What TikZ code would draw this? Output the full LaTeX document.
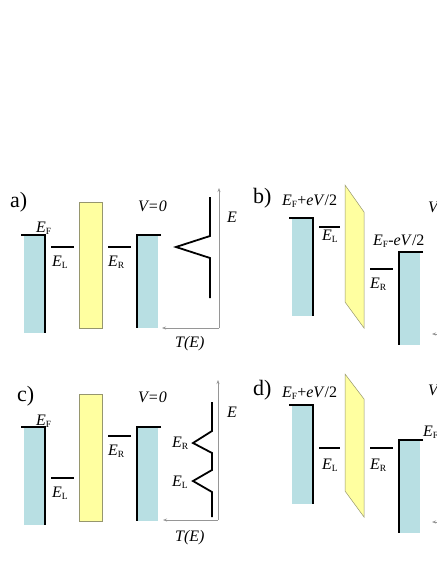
\documentclass[tikz,border=0pt]{standalone}
\usepackage{fontspec}
\setmainfont{Liberation Serif}
\usetikzlibrary{arrows.meta}
\definecolor{leadblue}{RGB}{184,223,227}
\definecolor{barfill}{RGB}{255,255,160}
\definecolor{barline}{RGB}{150,150,110}
\definecolor{axisgray}{RGB}{150,150,150}
\newcommand{\Ex}[1]{\textit{E}\raisebox{-0.35ex}{\fontsize{9.5}{9.5}\selectfont #1}}
\begin{document}
\begin{tikzpicture}[x=1pt,y=-1pt,
  lbl/.style={font=\fontsize{16}{16}\selectfont, inner sep=0pt, anchor=base west},
  panel/.style={font=\fontsize{22}{22}\selectfont, inner sep=0pt, anchor=base west},
  leadbox/.style={fill=leadblue, draw=none},
  edgeline/.style={line width=1.8pt, black},
  level/.style={line width=2.6pt, black},
  barrier/.style={fill=barfill, draw=barline, line width=0.5pt},
  curve/.style={line width=1.8pt, black, line join=miter},
  axis/.style={draw=axisgray, line width=0.7pt, -{Stealth[length=4pt,width=3pt]}},
]
\useasboundingbox (0,0) rectangle (436,564);

% ================= panel a =================
\node[panel] (pa) at (10,207) {a)};
\fill[leadbox] (24,235) rectangle (45,333);
\draw[edgeline] (21,235) -- (45,235) -- (45,333);
\node[lbl] (aEF) at (36,232) {\Ex{F}};
\draw[level] (51,247) -- (74,247);
\node[lbl] (aEL) at (52,266) {\Ex{L}};
\draw[barrier] (79,202) rectangle (102,328);
\draw[level] (108,247) -- (131,247);
\node[lbl] (aER) at (108,266) {\Ex{R}};
\fill[leadbox] (137,235) rectangle (158,328);
\draw[edgeline] (161,235) -- (137,235) -- (137,328);
\node[lbl] (aV) at (138,211) {\textit{V=0}};
\draw[curve] (210,197) -- (210,236) -- (176,247) -- (210,258) -- (210,298);
\coordinate (aO) at (219,328);
\coordinate (aYt) at (219,188);
\coordinate (aXt) at (162,328);
\draw[axis] (aO) -- (aYt);
\draw[axis] (aO) -- (aXt);
\node[lbl] (aT) at (175,347) {\textit{T(E)}};
\node[lbl] (aE) at (227,222) {\textit{E}};

% ================= panel b =================
\node[panel] (pb) at (253,203) {b)};
\node[lbl] (bEF) at (282,205) {\Ex{F}+\textit{eV}/2};
\fill[leadbox] (292,218) rectangle (313,316);
\draw[edgeline] (289,218) -- (313,218) -- (313,316);
\draw[level] (319,227) -- (340,227);
\node[lbl] (bEL) at (322,240) {\Ex{L}};
\draw[barrier] (345,185) -- (364,212) -- (364,328) -- (345,302) -- cycle;
\node[lbl] (bEF2) at (373,245) {\Ex{F}-\textit{eV}/2};
\draw[level] (370,269) -- (393,269);
\node[lbl] (bER) at (370,288) {\Ex{R}};
\fill[leadbox] (400,252) rectangle (420,345);
\draw[edgeline] (423,252) -- (399,252) -- (399,345);
\node[lbl] (bV) at (428,212) {\textit{V}};
\coordinate (bO) at (440,334);
\coordinate (bXt) at (432,334);
\draw[axis] (bO) -- (bXt);

% ================= panel c =================
\node[panel] (pc) at (17,401) {c)};
\fill[leadbox] (24,427) rectangle (45,525);
\draw[edgeline] (21,427) -- (45,427) -- (45,525);
\node[lbl] (cEF) at (36,425) {\Ex{F}};
\draw[level] (51,478) -- (74,478);
\node[lbl] (cEL) at (52,497) {\Ex{L}};
\draw[barrier] (79,394) rectangle (102,521);
\draw[level] (108,436) -- (131,436);
\node[lbl] (cER) at (108,455) {\Ex{R}};
\fill[leadbox] (137,427) rectangle (158,521);
\draw[edgeline] (161,427) -- (137,427) -- (137,521);
\node[lbl] (cV) at (138,402) {\textit{V=0}};
\draw[curve] (212,402) -- (212,431) -- (193,443) -- (212,453) -- (212,470)
  -- (193,481) -- (212,492) -- (212,517);
\node[lbl] (cPR) at (172,447) {\Ex{R}};
\node[lbl] (cPL) at (172,486) {\Ex{L}};
\coordinate (cO) at (218,520);
\coordinate (cYt) at (218,380);
\coordinate (cXt) at (163,520);
\draw[axis] (cO) -- (cYt);
\draw[axis] (cO) -- (cXt);
\node[lbl] (cT) at (175,541) {\textit{T(E)}};
\node[lbl] (cE) at (227,417) {\textit{E}};

% ================= panel d =================
\node[panel] (pd) at (253,395) {d)};
\node[lbl] (dEF) at (282,397) {\Ex{F}+\textit{eV}/2};
\fill[leadbox] (292,405) rectangle (313,504);
\draw[edgeline] (289,405) -- (313,405) -- (313,504);
\draw[level] (319,448) -- (340,448);
\node[lbl] (dEL) at (322,469) {\Ex{L}};
\draw[barrier] (345,374) -- (364,399) -- (364,517) -- (345,491) -- cycle;
\draw[level] (370,448) -- (393,448);
\node[lbl] (dER) at (370,469) {\Ex{R}};
\fill[leadbox] (400,440) rectangle (420,533);
\draw[edgeline] (423,440) -- (399,440) -- (399,533);
\node[lbl] (dEF2) at (423,436) {\Ex{F}};
\node[lbl] (dV) at (428,395) {\textit{V}};
\coordinate (dO) at (440,522);
\coordinate (dXt) at (432,522);
\draw[axis] (dO) -- (dXt);
\end{tikzpicture}
\end{document}
